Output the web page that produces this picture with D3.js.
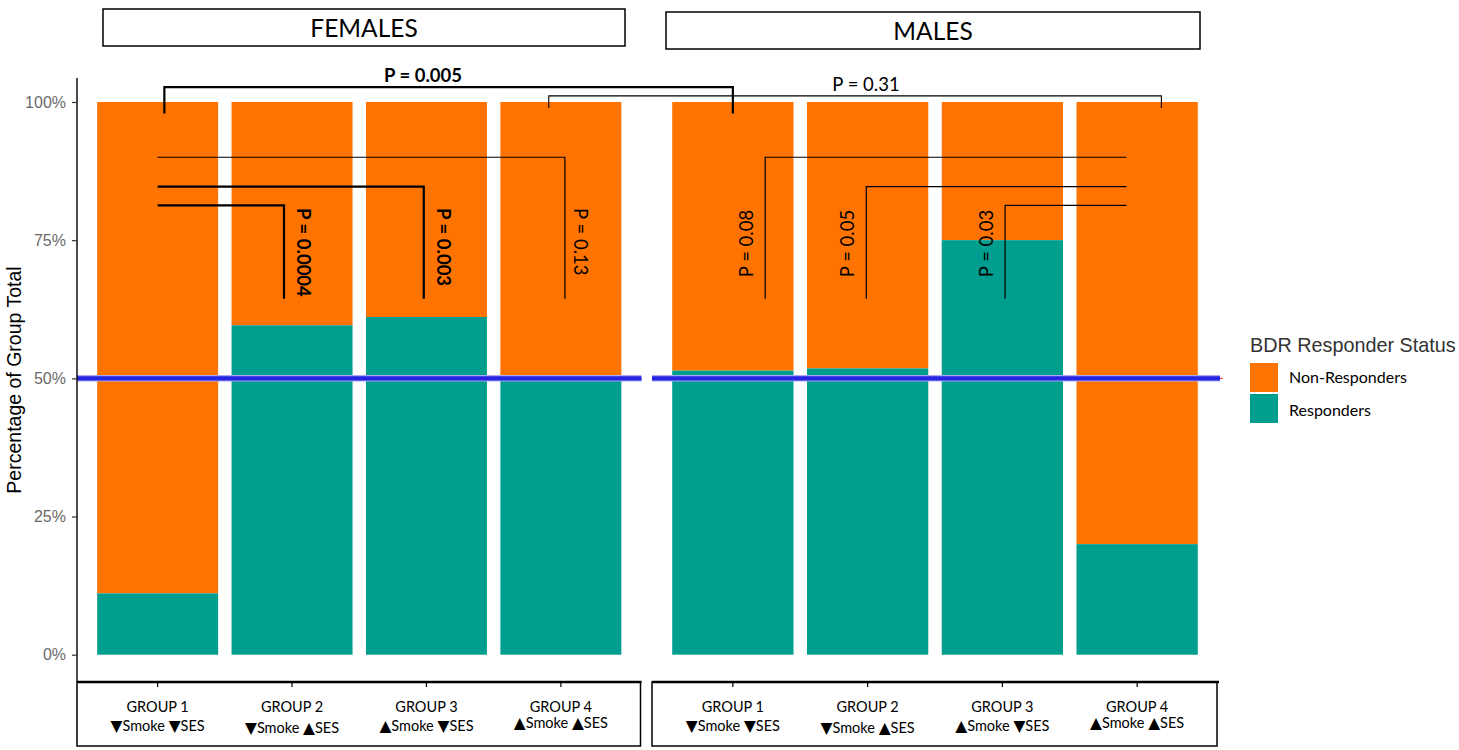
<!DOCTYPE html>
<html>
<head>
<meta charset="utf-8">
<script src="https://cdn.jsdelivr.net/npm/d3@7"></script>
<style>
  html, body { margin: 0; padding: 0; background: #fff; }
  svg { display: block; }
</style>
</head>
<body>
<svg id="chart" width="1459" height="750"></svg>
<script>
// ---------------- data ----------------
const categories = ["GROUP 1", "GROUP 2", "GROUP 3", "GROUP 4"];
const smokeLevels = ["▼", "▼", "▲", "▲"];
const sesLevels = ["▼", "▲", "▼", "▲"];
const panels = ["FEMALES", "MALES"];
const seriesNames = ["Non-Responders", "Responders"];
const femaleResponders = [11.1, 59.6, 61.1, 50.0];
const maleResponders = [51.4, 51.8, 75.0, 20.0];
const yTicks = [0, 25, 50, 75, 100];
const referenceLevel = 50;

// within-panel comparisons (positions in group units, levels in %)
const femaleTests = [
  { from: 1.0, to: 4.03, level: 90.0, label: "P = 0.13",   bold: false },
  { from: 1.0, to: 2.98, level: 84.7, label: "P = 0.003",  bold: true },
  { from: 1.0, to: 1.94, level: 81.3, label: "P = 0.0004", bold: true }
];
const maleTests = [
  { from: 3.92, to: 1.24, level: 90.0, label: "P = 0.08", bold: false },
  { from: 3.92, to: 1.99, level: 84.7, label: "P = 0.05", bold: false },
  { from: 3.92, to: 3.02, level: 81.3, label: "P = 0.03", bold: false }
];
const bracketFoot = 64.4;
// cross-panel comparisons
const crossTests = [
  { female: 1.05, male: 1.0, level: 102.7, foot: 97.9, label: "P = 0.005", bold: true },
  { female: 3.91, male: 4.18, level: 101.1, foot: 98.9, label: "P = 0.31", bold: false }
];

// ---------------- layout ----------------
const svg = d3.select("#chart");
const colors = { "Non-Responders": "#FF7300", "Responders": "#009E8E" };
const calib = "Lato, 'Open Sans', sans-serif";
const arial = "'Liberation Sans', Arial, sans-serif";
const sym = "'DejaVu Sans', sans-serif";

const y = d3.scaleLinear().domain([0, 100]).range([654.7, 102]);
const panelRanges = { FEMALES: [77, 641.5], MALES: [652, 1218] };
const xBand = {}, xPos = {};
panels.forEach(p => {
  xBand[p] = d3.scaleBand().domain(categories).range(panelRanges[p]).paddingInner(0.1).paddingOuter(0.15);
  xPos[p] = d3.scaleLinear().domain([0.4, 4.6]).range(panelRanges[p]);
});
const axisY = 682;

// header strips
const headerBoxes = { FEMALES: [103, 625, 9, 46], MALES: [666, 1200, 12, 49] };
panels.forEach(p => {
  const [x0, x1, y0, y1] = headerBoxes[p];
  svg.append("rect").attr("x", x0).attr("y", y0).attr("width", x1 - x0).attr("height", y1 - y0)
    .attr("fill", "#fff").attr("stroke", "#000").attr("stroke-width", 1.5);
  svg.append("text").attr("x", (x0 + x1) / 2).attr("y", (y0 + y1) / 2 + 9)
    .attr("text-anchor", "middle").attr("font-family", calib).attr("font-weight", 400)
    .style("font-size", "24.5px").attr("fill", "#000").text(p);
});

// bars
const dataByPanel = { FEMALES: femaleResponders, MALES: maleResponders };
panels.forEach(p => {
  const g = svg.append("g");
  const rows = categories.map((c, i) => ({ c, r: dataByPanel[p][i] }));
  g.selectAll("rect.non").data(rows).join("rect")
    .attr("x", d => xBand[p](d.c)).attr("width", xBand[p].bandwidth())
    .attr("y", y(100)).attr("height", d => y(d.r) - y(100))
    .attr("fill", colors["Non-Responders"]);
  g.selectAll("rect.resp").data(rows).join("rect")
    .attr("x", d => xBand[p](d.c)).attr("width", xBand[p].bandwidth())
    .attr("y", d => y(d.r)).attr("height", d => y(0) - y(d.r))
    .attr("fill", colors["Responders"]);

  // reference line at 50%
  const [r0, r1] = panelRanges[p];
  g.append("line").attr("x1", r0).attr("x2", r1 + (p === "MALES" ? 5 : 0))
    .attr("y1", y(referenceLevel)).attr("y2", y(referenceLevel))
    .attr("stroke", "#ff2020").attr("stroke-width", 1);
  g.append("line").attr("x1", r0).attr("x2", r1 + (p === "MALES" ? 2 : 0))
    .attr("y1", y(referenceLevel)).attr("y2", y(referenceLevel))
    .attr("stroke", "#a8a8f4").attr("stroke-width", 6.5);
  g.append("line").attr("x1", r0).attr("x2", r1 + (p === "MALES" ? 2 : 0))
    .attr("y1", y(referenceLevel)).attr("y2", y(referenceLevel))
    .attr("stroke", "#2424E2").attr("stroke-width", 4.2);

  // bottom strip box with x axis
  svg.append("rect").attr("x", r0).attr("y", axisY).attr("width", r1 - r0 - 1).attr("height", 64)
    .attr("fill", "none").attr("stroke", "#000").attr("stroke-width", 1.5);
  const xa = svg.append("g").attr("transform", `translate(0,${axisY})`)
    .call(d3.axisBottom(xBand[p]).tickSize(5).tickFormat(""));
  xa.select(".domain").attr("d", `M${r0},0H${r1 + (p === "MALES" ? 1 : 0)}`).attr("stroke-width", 2.6);
  xa.selectAll(".tick line").attr("stroke-width", 1.2);

  const lab = svg.append("g");
  categories.forEach((c, i) => {
    const cx = xBand[p](c) + xBand[p].bandwidth() / 2;
    lab.append("text").attr("x", cx).attr("y", 712).attr("text-anchor", "middle")
      .attr("font-family", calib).style("font-size", "14.5px").attr("fill", "#000").text(c);
    const t = lab.append("text").attr("x", cx).attr("y", 731 + (i === 1 ? 1.5 : 0) - (i === 3 ? 3 : 0))
      .attr("text-anchor", "middle").attr("font-family", calib).style("font-size", "14.5px").attr("fill", "#000");
    t.append("tspan").attr("font-family", sym).style("font-size", "15.5px").text(smokeLevels[i]);
    t.append("tspan").text("Smoke ");
    t.append("tspan").attr("font-family", sym).style("font-size", "15.5px").text(sesLevels[i]);
    t.append("tspan").text("SES");
  });
});

// y axis (line + ticks from d3 axis, labels placed through the same scale)
const ya = svg.append("g").attr("transform", "translate(77,0)")
  .call(d3.axisLeft(y).tickValues(yTicks).tickFormat("").tickSize(5));
ya.select(".domain").attr("d", `M0,78V${axisY}`).attr("stroke-width", 1.4);
ya.selectAll(".tick line").attr("stroke", "#333").attr("stroke-width", 1.2);
svg.append("g").selectAll("text").data(yTicks).join("text")
  .attr("x", 66).attr("y", d => y(d)).attr("dy", "0.36em").attr("text-anchor", "end")
  .attr("font-family", arial).attr("font-size", 16).attr("fill", "#6a6a6a")
  .text(d => d + "%");

svg.append("text").attr("transform", `translate(21,${(78 + axisY) / 2}) rotate(-90)`)
  .attr("text-anchor", "middle").attr("font-family", arial).style("font-size", "19.5px")
  .attr("fill", "#000").text("Percentage of Group Total");

// within-panel brackets
const drawTests = (tests, p, side) => {
  const X = xPos[p];
  tests.forEach(t => {
    const sw = t.bold ? 2.2 : 1.2;
    svg.append("path")
      .attr("d", `M${X(t.from)},${y(t.level)}H${X(t.to)}V${y(bracketFoot)}`)
      .attr("fill", "none").attr("stroke", "#000").attr("stroke-width", sw);
    const lx = X(t.to) + (side > 0 ? (t.bold ? 20 : 16) : -19);
    const ly = side > 0 ? y(80.8) : y(68.3);
    svg.append("text")
      .attr("transform", `translate(${lx},${ly}) rotate(${side > 0 ? 90 : -90})`)
      .attr("text-anchor", "start").attr("dominant-baseline", "central")
      .attr("font-family", calib).attr("font-weight", t.bold ? 700 : 400)
      .style("font-size", "18.5px").attr("fill", "#000").text(t.label);
  });
};
drawTests(femaleTests, "FEMALES", 1);
drawTests(maleTests, "MALES", -1);

// cross-panel brackets
crossTests.forEach(t => {
  const x0 = xPos.FEMALES(t.female), x1 = xPos.MALES(t.male);
  svg.append("path")
    .attr("d", `M${x0},${y(t.foot)}V${y(t.level)}H${x1}V${y(t.foot)}`)
    .attr("fill", "none").attr("stroke", "#000").attr("stroke-width", t.bold ? 2.2 : 1.1);
  svg.append("text")
    .attr("x", t.bold ? 423 : 866).attr("y", y(t.level) - 5)
    .attr("text-anchor", "middle").attr("font-family", calib)
    .attr("font-weight", t.bold ? 700 : 400).style("font-size", "18.5px").attr("fill", "#000")
    .text(t.label);
});

// legend
const lg = svg.append("g").attr("transform", "translate(1250,0)");
lg.append("text").attr("x", 0).attr("y", 352).attr("font-family", arial).style("font-size", "19.8px")
  .attr("fill", "#333").text("BDR Responder Status");
seriesNames.forEach((s, i) => {
  lg.append("rect").attr("x", 0).attr("y", 363 + i * 31).attr("width", 28).attr("height", 29)
    .attr("fill", colors[s]);
  lg.append("text").attr("x", 39).attr("y", 383 + i * 33).attr("font-family", calib)
    .style("font-size", "16px").attr("fill", "#000").text(s);
});
</script>
</body>
</html>
